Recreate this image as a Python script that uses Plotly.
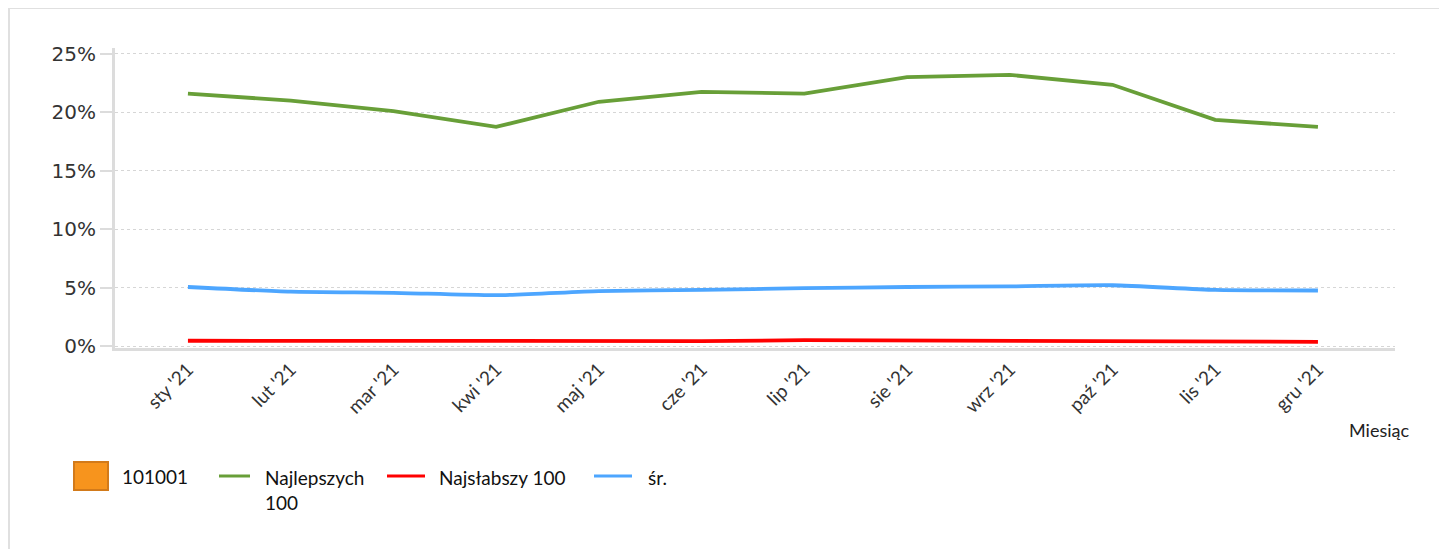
import plotly.graph_objects as go

# Dane
miesiace = ["sty '21", "lut '21", "mar '21", "kwi '21", "maj '21", "cze '21",
            "lip '21", "sie '21", "wrz '21", "paź '21", "lis '21", "gru '21"]
najlepszych = [21.6, 21.0, 20.1, 18.75, 20.9, 21.75, 21.6, 23.0, 23.2, 22.35, 19.35, 18.75]
najslabszy = [0.45, 0.43, 0.41, 0.41, 0.41, 0.42, 0.5, 0.48, 0.45, 0.42, 0.38, 0.36]
srednia = [5.05, 4.65, 4.55, 4.35, 4.7, 4.8, 4.95, 5.05, 5.1, 5.2, 4.8, 4.75]
y_ticks = [0, 5, 10, 15, 20, 25]

nazwy = ["101001", "Najlepszych<br>100", "Najsłabszy 100", "śr."]
kolory = ["#F7941D", "#689F38", "#FF0000", "#4DA6FF"]

# strona ma margines 8 px, więc wszystko przesuwamy o 8 px
OFF = 8
W, H = 1447, 549
L, T = 115 - OFF, 48 - OFF
R = W - (1395 - OFF)
B = H - (348 - OFF)
pw, ph = W - L - R, H - T - B


def px(x):
    return (x - OFF - L) / pw


def py(y):
    return (H - B - (y - OFF)) / ph


fig = go.Figure()

series = [(najlepszych, kolory[1], "linear", nazwy[1]),
          (najslabszy, kolory[2], "linear", nazwy[2]),
          (srednia, kolory[3], "spline", nazwy[3])]
for vals, col, shape, name in series:
    fig.add_trace(go.Scatter(
        x=miesiace, y=vals, mode="lines", name=name.replace("<br>", " "),
        line=dict(color=col, width=3.8, shape=shape, smoothing=0.6),
        showlegend=False,
        hovertemplate="%{x}: %{y:.2f}%<extra></extra>",
    ))

shapes = []
annotations = []

# Ręczna legenda
shapes.append(dict(type="rect", xref="paper", yref="paper",
                   x0=px(74), x1=px(108), y0=py(490), y1=py(462),
                   fillcolor=kolory[0], line=dict(color="#D27A1A", width=2)))
annotations.append(dict(x=px(120), y=py(476), xref="paper", yref="paper",
                        text=nazwy[0], showarrow=False, xanchor="left", yanchor="middle",
                        font=dict(family="Lato", size=19, color="#111")))
leg = [(219, 250, 263, 1), (387, 425, 437, 2), (594, 632, 646, 3)]
for x0, x1, tx, i in leg:
    shapes.append(dict(type="line", xref="paper", yref="paper",
                       x0=px(x0), x1=px(x1), y0=py(476), y1=py(476),
                       line=dict(color=kolory[i], width=3)))
    annotations.append(dict(x=px(tx), y=py(464), xref="paper", yref="paper",
                            text=nazwy[i], showarrow=False, xanchor="left", yanchor="top",
                            align="left", font=dict(family="Lato", size=19, color="#111")))

annotations.append(dict(x=px(1411), y=py(430), xref="paper", yref="paper",
                        text="Miesiąc", showarrow=False, xanchor="right", yanchor="middle",
                        font=dict(family="Lato", size=18, color="#222")))

# Ramka
for x0, y0, x1, y1 in [(9, 560, 9, 8), (9, 8, 1441, 8), (1441, 8, 1441, 560)]:
    shapes.append(dict(type="line", xref="paper", yref="paper",
                       x0=px(x0), x1=px(x1), y0=py(y0), y1=py(y1),
                       line=dict(color="#E0E0E0", width=2)))

fig.update_layout(
    width=W, height=H,
    margin=dict(l=L, r=R, t=T, b=B),
    paper_bgcolor="white", plot_bgcolor="white",
    font=dict(family="DejaVu Sans", color="#333"),
    shapes=shapes, annotations=annotations,
    xaxis=dict(
        range=[-0.71, 11.75], tickangle=-45,
        tickfont=dict(family="Lato", size=19, color="#333"),
        showgrid=False, showline=True, linecolor="#DCDCDC", linewidth=3,
        ticks="", zeroline=False,
    ),
    yaxis=dict(
        range=[-0.17, 25.5], tickmode="array", tickvals=y_ticks,
        ticktext=[f"{v}%" for v in y_ticks],
        tickfont=dict(family="DejaVu Sans", size=20, color="#333"),
        showgrid=True, gridcolor="#D6D6D6", griddash="dot", gridwidth=1,
        showline=True, linecolor="#DCDCDC", linewidth=3,
        ticks="outside", ticklen=12, tickcolor="#DCDCDC", tickwidth=2,
        zeroline=False,
    ),
)

fig.write_html("out.html")
